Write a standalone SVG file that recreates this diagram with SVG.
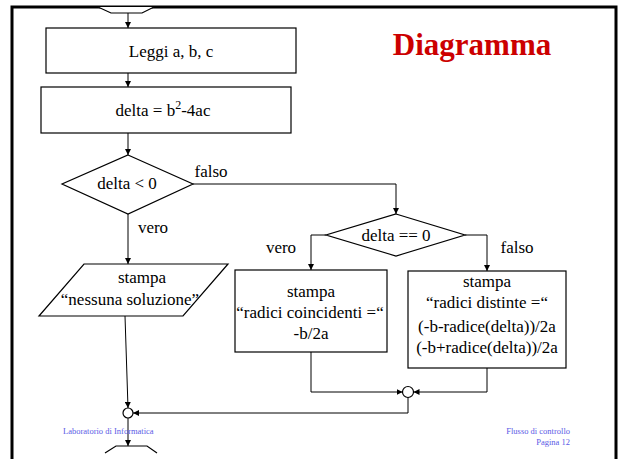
<svg xmlns="http://www.w3.org/2000/svg" width="621" height="459" viewBox="0 0 621 459">
<defs>
<marker id="arr" markerUnits="userSpaceOnUse" markerWidth="7" markerHeight="6" refX="6" refY="3" orient="auto"><path d="M0,0 L6,3 L0,6 z" fill="#000"/></marker>
<style>
.sh{fill:#fff;stroke:#000;stroke-width:1.2}
.t{font-family:"Liberation Serif","Times New Roman",serif;font-size:17px;fill:#000;text-anchor:middle}
.c{fill:none;stroke:#000;stroke-width:1}
.ca{fill:none;stroke:#000;stroke-width:1;marker-end:url(#arr)}
.f{font-family:"Liberation Serif","Times New Roman",serif;font-size:8.5px;fill:#5a5ae6}
</style>
</defs>
<rect x="0" y="0" width="621" height="459" fill="#fff"/>
<path d="M12,470 V7 H616 V470" fill="none" stroke="#000" stroke-width="3"/>
<text x="472" y="55" font-family="'Liberation Serif','Times New Roman',serif" font-size="31" font-weight="bold" fill="#cc0000" text-anchor="middle">Diagramma</text>
<g id="start"><path d="M98,7 L111,13 H142 L154,7" class="sh"/></g>
<g id="leggi"><rect x="46" y="28" width="250" height="45" class="sh"/><text x="171" y="57" class="t">Leggi a, b, c</text></g>
<g id="calcola"><rect x="41" y="87" width="250" height="46" class="sh"/><text x="163" y="116" class="t">delta = b<tspan dy="-7" font-size="12">2</tspan><tspan dy="7">-4ac</tspan></text></g>
<g id="cond1"><polygon points="128,155 193,184 128,214 62,184" class="sh"/><text x="127" y="189" class="t">delta &lt; 0</text></g>
<g id="nessuna"><polygon points="84,264 228,264 183,316 39,316" class="sh"/><text x="142" y="283" class="t">stampa</text><text x="130" y="305" class="t">“nessuna soluzione”</text></g>
<g id="cond2"><polygon points="396,214 465,235 396,256 326,235" class="sh"/><text x="396" y="241" class="t">delta == 0</text></g>
<g id="coincidenti"><rect x="235" y="270" width="152" height="82" class="sh"/><text x="311" y="297" class="t">stampa</text><text x="310" y="318" class="t">“radici coincidenti =“</text><text x="311" y="339" class="t">-b/2a</text></g>
<g id="distinte"><rect x="408" y="271" width="158" height="97" class="sh"/><text x="487" y="287" class="t">stampa</text><text x="487" y="308" class="t">“radici distinte =“</text><text x="487" y="332" class="t">(-b-radice(delta))/2a</text><text x="487" y="353" class="t">(-b+radice(delta))/2a</text></g>
<g id="join2"><circle cx="408" cy="392" r="5.5" class="sh"/></g>
<g id="join1"><circle cx="128" cy="413" r="5" class="sh"/></g>
<g id="end"><path d="M105,453 L116,446 H147 L157,453" class="sh"/></g>
<g id="connectors">
<path d="M128,13 V28" class="ca"/>
<path d="M128,73 V87" class="ca"/>
<path d="M128,133 V155" class="ca"/>
<path d="M193,184 H396 V214" class="ca"/>
<path d="M128,214 V264" class="ca"/>
<path d="M125,316 L128,408" class="ca"/>
<path d="M326,235 H311 V270" class="ca"/>
<path d="M465,235 H487 V271" class="ca"/>
<path d="M311,352 V392 H402.5" class="ca"/>
<path d="M487,368 V392 H413.5" class="ca"/>
<path d="M408,397.5 V413 H133" class="ca"/>
<path d="M128,418 V446" class="ca"/>
</g>
<g id="labels">
<text x="211" y="177" class="t">falso</text>
<text x="153" y="233" class="t">vero</text>
<text x="281" y="253" class="t">vero</text>
<text x="517" y="253" class="t">falso</text>
</g>
<text x="63" y="434" class="f">Laboratorio di Informatica</text>
<text x="570" y="434" class="f" text-anchor="end">Flusso di controllo</text>
<text x="570" y="445" class="f" text-anchor="end">Pagina 12</text>
</svg>
